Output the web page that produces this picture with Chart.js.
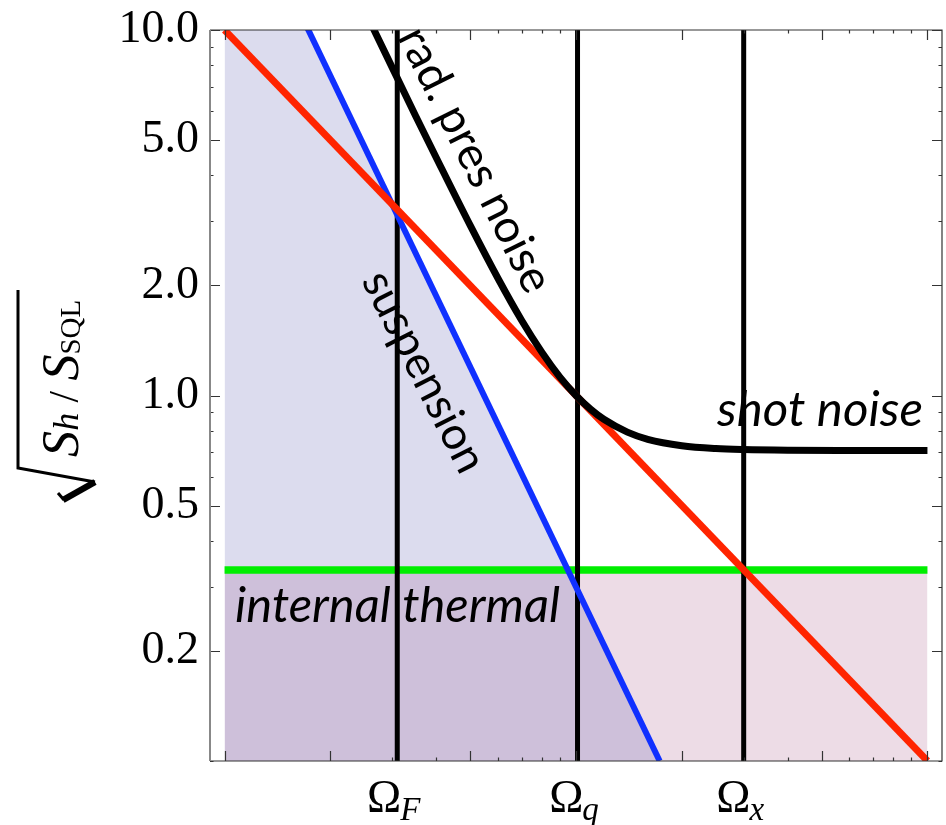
<!DOCTYPE html>
<html>
<head>
<meta charset="utf-8">
<script src="https://cdn.jsdelivr.net/npm/chart.js@4.4.1/dist/chart.umd.min.js"></script>
<style>
  html, body { margin: 0; padding: 0; background: #fff; }
  #wrap { width: 946px; height: 825px; }
</style>
</head>
<body>
<div id="wrap"><canvas id="noiseChart" width="946" height="825"></canvas></div>
<script>
// axis ranges (log-log)
var xRange = [0.909, 110];
var yRange = [0.1, 10];

// frequency markers on the x axis
var omegaValues = [3.1, 10.1, 30];
var omegaSubs = ['F', 'q', 'x'];

// tick marks
var xTicks = [1, 2, 3, 4, 5, 6, 7, 8, 9, 10, 20, 30, 40, 50, 60, 70, 80, 90, 100];
var xMajor = [1, 2, 5, 10, 20, 50, 100];
var yTicks = [0.1, 0.2, 0.3, 0.4, 0.5, 0.6, 0.7, 0.8, 0.9, 1, 2, 3, 4, 5, 6, 7, 8, 9, 10];
var yMajor = [0.2, 0.5, 1, 2, 5, 10];
var yLabels = ['0.2', '0.5', '1.0', '2.0', '5.0', '10.0'];

// curves
var sqlX = [1, 100];
var sqlY = [10, 0.1];
var suspX = [1, 17.3];
var suspY = [30, 0.1];
var thermX = [1, 100];
var thermY = [0.333, 0.333];
var radX = [2.5, 3, 3.5, 4, 5, 6, 7, 8, 9, 10, 11, 12, 14, 16, 20, 25, 30, 40, 60, 100];
var radY = [11.34, 7.89, 5.81, 4.48, 2.92, 2.09, 1.607, 1.312, 1.123, 1.0, 0.917, 0.861, 0.794, 0.759, 0.729, 0.716, 0.7115, 0.7085, 0.7073, 0.7071];

// text labels placed in data coordinates
var noteText = ['rad. pres noise', 'suspension', 'shot noise', 'internal thermal'];
var noteX = [5.16, 3.69, 25.2, 1.071];
var noteY = [4.41, 1.16, 0.825, 0.240];
var noteAngle = [63.5, 63, 0, 0];
var noteWidth = [290, 220, 206, 325];
var noteItalic = [false, false, true, true];

var SERIF = "'Liberation Serif', 'Times New Roman', serif";
var SANS = "Lato, 'Open Sans', sans-serif";

function pts(xs, ys) {
  return xs.map(function (x, i) { return {x: x, y: ys[i]}; });
}

var datasets = [
  {data: pts(radX, radY), borderColor: '#000', borderWidth: 7, cubicInterpolationMode: 'monotone', fill: false},
  {data: pts(sqlX, sqlY), borderColor: '#ff2400', borderWidth: 7, fill: false},
  {data: pts(suspX, suspY), borderColor: '#1030ff', borderWidth: 6, fill: 'start', backgroundColor: 'rgba(80,80,170,0.2)'}
];
omegaValues.forEach(function (w) {
  datasets.push({data: pts([w, w], yRange), borderColor: '#000', borderWidth: 5, fill: false});
});
datasets.push({data: pts(thermX, thermY), borderColor: '#00ee00', borderWidth: 7.5, fill: 'start', backgroundColor: 'rgba(165,80,130,0.2)'});

var framePlugin = {
  id: 'frame',
  afterDatasetsDraw: function (chart) {
    var ctx = chart.ctx, a = chart.chartArea;
    var xs = chart.scales.x, ys = chart.scales.y;
    ctx.save();
    ctx.lineWidth = 1.2;
    ctx.strokeStyle = '#333';
    ctx.beginPath();
    ctx.moveTo(a.left, a.top); ctx.lineTo(a.right, a.top);
    ctx.lineTo(a.right, a.bottom); ctx.lineTo(a.left, a.bottom);
    ctx.stroke();
    xTicks.forEach(function (v) {
      var px = Math.round(xs.getPixelForValue(v)) + 0.5;
      var len = xMajor.indexOf(v) >= 0 ? 10 : 3.5;
      ctx.beginPath();
      ctx.moveTo(px, a.bottom); ctx.lineTo(px, a.bottom - len);
      ctx.moveTo(px, a.top); ctx.lineTo(px, a.top + len);
      ctx.stroke();
    });
    yTicks.forEach(function (v) {
      var py = Math.round(ys.getPixelForValue(v)) + 0.5;
      var len = yMajor.indexOf(v) >= 0 ? 10 : 3.5;
      ctx.beginPath();
      ctx.moveTo(a.left, py); ctx.lineTo(a.left + len, py);
      ctx.moveTo(a.right, py); ctx.lineTo(a.right - len, py);
      ctx.stroke();
    });
    ctx.strokeStyle = '#888';
    ctx.lineWidth = 2;
    ctx.beginPath();
    ctx.moveTo(a.left, a.top); ctx.lineTo(a.left, a.bottom);
    ctx.stroke();

    // annotations
    ctx.fillStyle = '#000';
    noteText.forEach(function (t, i) {
      var px = xs.getPixelForValue(noteX[i]);
      var py = ys.getPixelForValue(noteY[i]);
      var style = noteItalic[i] ? 'italic ' : '';
      ctx.font = style + '40px ' + SANS;
      var size = 40 * noteWidth[i] / ctx.measureText(t).width;
      ctx.font = style + size.toFixed(1) + 'px ' + SANS;
      ctx.save();
      ctx.translate(px, py);
      if (noteAngle[i]) {
        ctx.rotate(noteAngle[i] * Math.PI / 180);
        ctx.textAlign = 'center';
        ctx.textBaseline = 'middle';
      } else {
        ctx.textAlign = 'left';
        ctx.textBaseline = 'alphabetic';
      }
      ctx.fillText(t, 0, 0);
      ctx.restore();
    });

    // omega labels under the x axis
    ctx.textBaseline = 'alphabetic';
    ctx.textAlign = 'left';
    omegaValues.forEach(function (w, i) {
      var px = xs.getPixelForValue(w);
      ctx.font = '46px ' + SERIF;
      var w1 = ctx.measureText('\u03A9').width;
      ctx.font = 'italic 33px ' + SERIF;
      var w2 = ctx.measureText(omegaSubs[i]).width;
      var x0 = px - (w1 + w2) / 2 - 3;
      ctx.font = '46px ' + SERIF;
      ctx.fillText('\u03A9', x0, 812);
      ctx.font = 'italic 33px ' + SERIF;
      ctx.fillText(omegaSubs[i], x0 + w1 - 1, 820);
    });

    // y axis title: sqrt(S_h / S_SQL)
    var parts = [
      {t: 'S', f: 'italic 58px ' + SERIF, dy: 0},
      {t: 'h', f: 'italic 40px ' + SERIF, dy: 0},
      {t: ' / ', f: '46px ' + SERIF, dy: 0},
      {t: 'S', f: 'italic 58px ' + SERIF, dy: 0},
      {t: 'SQL', f: '32px ' + SERIF, dy: 2}
    ];
    var total = 0;
    parts.forEach(function (p) { ctx.font = p.f; p.w = ctx.measureText(p.t).width; total += p.w; });
    var k = 157 / total;
    ctx.save();
    ctx.translate(78, 457);
    ctx.rotate(-Math.PI / 2);
    ctx.scale(k, k);
    var cx = 0;
    parts.forEach(function (p) { ctx.font = p.f; ctx.fillText(p.t, cx, p.dy); cx += p.w; });
    ctx.restore();
    ctx.strokeStyle = '#000';
    ctx.lineJoin = 'miter';
    ctx.lineWidth = 3;
    ctx.beginPath();
    ctx.moveTo(18, 290); ctx.lineTo(18, 468); ctx.lineTo(95, 482);
    ctx.stroke();
    ctx.lineWidth = 6.5;
    ctx.beginPath();
    ctx.moveTo(95, 482); ctx.lineTo(63, 500);
    ctx.stroke();
    ctx.lineWidth = 3;
    ctx.beginPath();
    ctx.moveTo(64, 500); ctx.lineTo(58, 493);
    ctx.stroke();
    ctx.restore();
  }
};

new Chart(document.getElementById('noiseChart').getContext('2d'), {
  type: 'scatter',
  data: {datasets: datasets},
  options: {
    responsive: false,
    animation: false,
    devicePixelRatio: 1,
    showLine: true,
    layout: {padding: {left: 0, top: 30, right: 4, bottom: 0}},
    elements: {point: {radius: 0, hoverRadius: 0}, line: {tension: 0}},
    plugins: {
      legend: {display: false},
      tooltip: {enabled: false},
      filler: {drawTime: 'beforeDatasetsDraw'}
    },
    scales: {
      x: {
        type: 'logarithmic',
        min: xRange[0],
        max: xRange[1],
        grid: {display: false},
        border: {display: false},
        ticks: {display: false},
        afterFit: function (scale) { scale.height = 64; scale.paddingLeft = 0; scale.paddingRight = 0; }
      },
      y: {
        type: 'logarithmic',
        min: yRange[0],
        max: yRange[1],
        grid: {display: false, drawTicks: false},
        border: {display: false},
        afterBuildTicks: function (scale) {
          scale.ticks = yTicks.map(function (v) { return {value: v}; });
        },
        ticks: {
          autoSkip: false,
          padding: 11,
          color: '#000',
          font: {family: SERIF, size: 46},
          callback: function (v) {
            var i = yMajor.indexOf(v);
            return i < 0 ? '' : yLabels[i];
          }
        },
        afterFit: function (scale) { scale.width = 210; scale.paddingTop = 0; scale.paddingBottom = 0; }
      }
    }
  },
  plugins: [framePlugin]
});
</script>
</body>
</html>
